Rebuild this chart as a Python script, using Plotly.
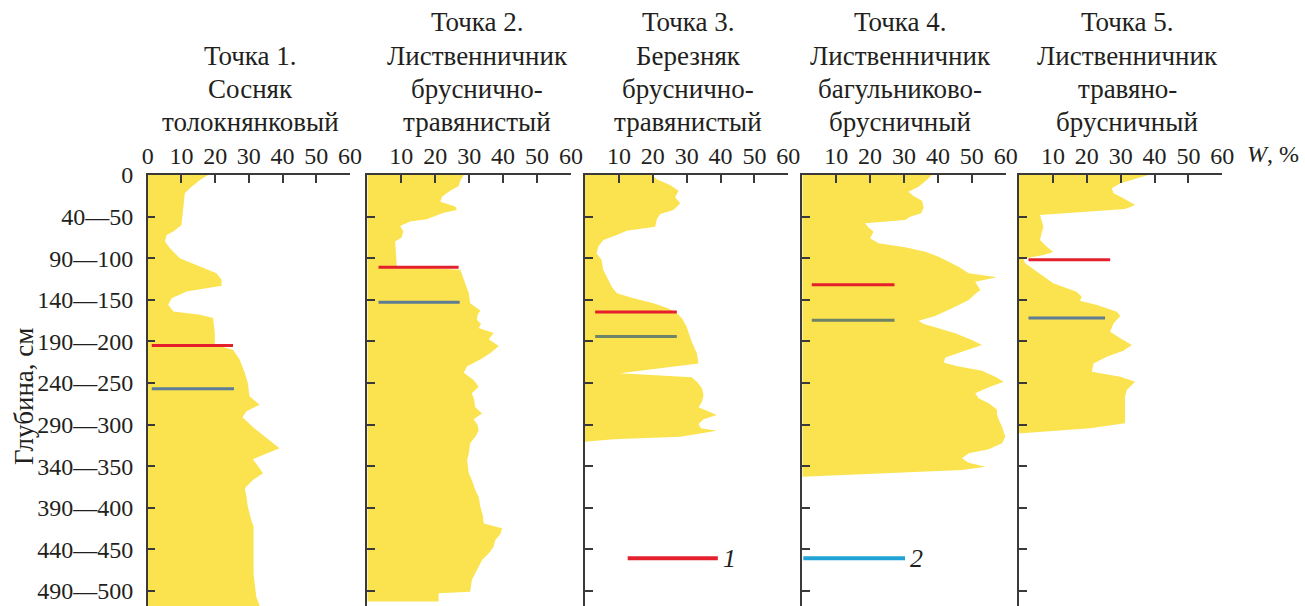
import plotly.graph_objects as go

# ---------------------------------------------------------------- data
# Soil moisture profiles: depth (cm) and moisture W (%)
depth_p1 = [0, 6, 16, 22, 42, 60, 68, 72, 80, 88, 100, 110, 118, 126, 133, 140, 148, 156, 164, 168,
            172, 190, 204, 210, 222, 238, 250, 266, 276, 284, 291, 303, 318.5, 328.5, 336.5, 341.7,
            349.8, 358.6, 366.6, 376.6, 386.6, 398.6, 414.7, 422.7, 478.8, 506.8, 518, 530]
w_p1 = [17.9, 15.5, 12.5, 11.0, 10.5, 10.0, 7.6, 5.6, 5.1, 6.6, 9.5, 15.5, 20.4, 21.9, 21.9, 11.5,
        7.1, 6.1, 7.6, 15.5, 19.4, 19.9, 19.9, 25.3, 27.3, 28.8, 29.7, 30.2, 33.2, 29.3, 28.1, 31.2,
        36.2, 39.1, 34.2, 31.2, 32.7, 34.2, 31.2, 28.8, 29.3, 29.7, 30.7, 31.4, 31.4, 32.2, 33.2, 33.2]

depth_p2 = [0, 6.8, 13.2, 18.8, 26, 32, 38, 42, 45.3, 53.3, 56, 61.3, 68, 75, 80, 102, 110, 114, 126,
            136, 142, 154, 158, 163, 168, 174, 179, 184, 190, 197.5, 205.5, 214, 221.6, 230, 237.6,
            246.4, 254.4, 262.4, 270.4, 279.2, 286.5, 293.7, 300.5, 307.3, 314.5, 322.5, 334.5, 342.5,
            358.6, 366.6, 378.6, 386.6, 398.6, 408.7, 418.7, 424.7, 431.5, 438.7, 446.7, 454.7, 462.7,
            474.8, 486.8, 500.8, 502.8, 512.5]
w_p2 = [28.4, 27.4, 26.9, 24.4, 22.0, 21.5, 25.9, 26.4, 22.5, 17.5, 12.6, 9.7, 10.6, 10.1, 8.2, 8.5,
        8.7, 27.4, 28.4, 29.2, 29.9, 30.3, 31.8, 33.3, 32.5, 32.3, 33.5, 32.8, 37.2, 35.8, 38.7, 36.3,
        33.3, 29.4, 28.4, 31.3, 32.8, 30.8, 31.5, 31.8, 33.8, 31.3, 32.5, 32.8, 31.8, 30.3, 29.9, 29.4,
        29.9, 30.8, 31.8, 32.8, 33.3, 34.0, 34.3, 39.7, 39.2, 37.7, 37.2, 35.8, 33.8, 32.3, 30.8, 30.3,
        21.0, 21.0]

depth_p3 = [0, 5.2, 12, 18.8, 26.8, 34, 42, 46.9, 53.3, 62.1, 66.9, 72.1, 78.1, 86.1, 94.2, 102.2,
            114.2, 122.2, 134.2, 142.2, 148.2, 154.2, 160.3, 166.3, 172.3, 182.3, 200.3, 214.3, 226.4,
            238.4, 243.2, 248.4, 256.4, 264.4, 272.4, 279.2, 283.3, 288.5, 293.7, 299.3, 304.5, 307.3,
            310.5, 314.5, 317.7, 320.5]
w_p3 = [19.7, 21.2, 25.1, 27.6, 26.6, 28.1, 26.1, 22.2, 21.2, 20.7, 12.3, 9.4, 5.4, 3.9, 3.4, 4.9,
        5.4, 6.4, 7.9, 9.4, 14.3, 20.2, 24.6, 27.1, 28.6, 30.0, 31.5, 33.0, 33.5, 10.3, 31.5, 33.0,
        34.5, 35.0, 34.5, 33.5, 36.0, 38.9, 35.0, 33.5, 34.2, 38.9, 34.5, 28.1, 8.4, 0.0]

depth_p4 = [0, 6, 14, 20, 25.2, 30.8, 38.9, 46.1, 50.1, 54.1, 58.1, 62.9, 68.1, 76.1, 82.1, 86.9,
            92.1, 98.2, 104.2, 110.2, 118.2, 123, 128.2, 138.2, 143, 150.2, 158.3, 169.5, 175.1, 179.1,
            183.1, 190.3, 198.3, 204.3, 212.3, 219.2, 225.2, 229.2, 235.2, 242.4, 248.4, 255.2, 262.4,
            268.4, 274.4, 281.7, 287.3, 294.5, 302.5, 314.5, 322.5, 329.7, 334.5, 340.5, 345.8, 350.6,
            354.6, 358.6, 362.6]
w_p4 = [38.2, 36.7, 34.3, 31.3, 32.8, 35.3, 35.8, 35.1, 31.8, 30.3, 18.5, 19.5, 21.0, 20.0, 22.5,
        30.3, 36.3, 40.2, 43.2, 46.1, 49.1, 57.4, 51.0, 52.5, 51.0, 49.1, 45.1, 39.2, 34.3, 35.8,
        39.2, 45.1, 50.0, 53.0, 47.1, 42.2, 41.7, 45.1, 53.0, 56.9, 59.4, 55.0, 51.0, 52.0, 55.0,
        57.4, 57.4, 58.0, 58.9, 59.9, 58.9, 55.0, 49.1, 47.1, 49.1, 54.0, 47.1, 22.5, 0.0]

depth_p5 = [0, 4, 10, 16, 22, 28, 36.1, 40.9, 44.1, 48.1, 54.9, 62.1, 69.3, 78.1, 86.1, 92.5, 96.2,
            100.6, 106.2, 122.2, 130.2, 140.2, 146.2, 151, 156.3, 164.3, 169.5, 178.3, 188.3, 196.3,
            204.3, 211.1, 218.3, 226.4, 236.4, 242.4, 248.4, 258.4, 266.4, 298.5, 304.5, 310.5]
w_p5 = [38.2, 34.8, 29.9, 27.4, 27.9, 30.8, 34.3, 31.3, 21.0, 6.2, 6.7, 7.2, 6.7, 6.2, 8.2, 10.1,
        7.2, 1.3, 1.8, 7.2, 10.1, 17.0, 18.5, 18.0, 23.0, 28.9, 29.9, 27.9, 26.9, 29.9, 33.3, 30.8,
        25.9, 22.0, 21.5, 29.9, 34.3, 31.8, 31.3, 31.3, 21.0, 0.8]

profiles = [(depth_p1, w_p1), (depth_p2, w_p2), (depth_p3, w_p3), (depth_p4, w_p4), (depth_p5, w_p5)]

# Marker depths: level 1 (red) and level 2 (blue) per site, with their W extent
level1_depth = [205, 111, 164.7, 132, 102]
level1_w_from = [1.2, 3.3, 3.0, 2.8, 2.8]
level1_w_to = [25.3, 26.9, 27.1, 27.2, 26.9]
level2_depth = [257, 153, 194, 174.7, 172]
level2_w_from = [1.2, 3.3, 3.0, 2.8, 2.8]
level2_w_to = [25.6, 27.2, 27.1, 27.2, 25.4]

# Legend samples
legend_depth = 460.7
legend1_w = [12.6, 39.2]
legend2_w = [0.3, 30.3]

titles = [
    ["Точка 1.", "Сосняк", "толокнянковый"],
    ["Точка 2.", "Лиственничник", "бруснично-", "травянистый"],
    ["Точка 3.", "Березняк", "бруснично-", "травянистый"],
    ["Точка 4.", "Лиственничник", "багульниково-", "брусничный"],
    ["Точка 5.", "Лиственничник", "травяно-", "брусничный"],
]

w_ticks = [0, 10, 20, 30, 40, 50, 60]
depth_ticks = [0, 50, 100, 150, 200, 250, 300, 350, 400, 450, 500]
depth_labels = ["0", "40—50", "90—100", "140—150", "190—200", "240—250",
                "290—300", "340—350", "390—400", "440—450", "490—500"]

# ---------------------------------------------------------------- style
W_PX, H_PX = 1305, 606
FONT = "Liberation Serif, Times New Roman, serif"
TXT = "#231f20"
AXC = "#3a3a3a"
YELLOW = "#fae34f"
RED = "#e3202c"
LEVEL2_COLORS = ["#5d7c96", "#5f7d90", "#6e8468", "#6d8266", "#5e7d94"]
LEG2 = "#22a3d6"

panel_px = [(147.7, 350.0), (367.3, 571.0), (585.0, 788.3), (802.3, 1005.7), (1019.0, 1222.3)]
title_cx = [250, 477, 688, 900, 1127]
plot_top_px = 175
depth_range = [518, 0]

fig = go.Figure()

for i, (dep, w) in enumerate(profiles):
    ax = "" if i == 0 else str(i + 1)
    xr, yr = "x" + ax, "y" + ax
    fig.add_trace(go.Scatter(x=w, y=dep, xaxis=xr, yaxis=yr, mode="lines",
                             line=dict(width=0, color=YELLOW), fill="tozerox",
                             fillcolor=YELLOW, hoverinfo="skip", showlegend=False))
    fig.add_trace(go.Scatter(x=[level1_w_from[i], level1_w_to[i]],
                             y=[level1_depth[i], level1_depth[i]], xaxis=xr, yaxis=yr,
                             mode="lines", line=dict(width=3, color=RED), showlegend=False))
    fig.add_trace(go.Scatter(x=[level2_w_from[i], level2_w_to[i]],
                             y=[level2_depth[i], level2_depth[i]], xaxis=xr, yaxis=yr,
                             mode="lines", line=dict(width=3, color=LEVEL2_COLORS[i]),
                             showlegend=False))

# legend samples inside panels 3 and 4
fig.add_trace(go.Scatter(x=legend1_w, y=[legend_depth] * 2, xaxis="x3", yaxis="y3",
                         mode="lines", line=dict(width=4, color=RED), showlegend=False))
fig.add_trace(go.Scatter(x=legend2_w, y=[legend_depth] * 2, xaxis="x4", yaxis="y4",
                         mode="lines", line=dict(width=4, color=LEG2), showlegend=False))

ydom = [0, 1 - plot_top_px / H_PX]
layout = dict(
    width=W_PX, height=H_PX, margin=dict(l=0, r=0, t=0, b=0, autoexpand=False),
    paper_bgcolor="white", plot_bgcolor="white",
    font=dict(family=FONT, size=24, color=TXT), showlegend=False,
)
for i, (x0, x1) in enumerate(panel_px):
    ax = "" if i == 0 else str(i + 1)
    ticktext = [str(v) for v in w_ticks]
    if i > 0:
        ticktext[0] = ""
    layout["xaxis" + ax] = dict(
        domain=[x0 / W_PX, x1 / W_PX], range=[0, 60], side="top",
        anchor="y" + ax, tickvals=w_ticks, ticktext=ticktext, automargin=False,
        ticks="inside", ticklen=8, tickwidth=1.5, tickcolor=AXC,
        showline=True, linecolor=AXC, linewidth=1.5, showgrid=False, zeroline=False,
        tickfont=dict(size=24, family=FONT, color=TXT), ticklabelstandoff=0,
    )
    layout["yaxis" + ax] = dict(
        domain=ydom, range=depth_range, anchor="x" + ax, automargin=False,
        tickvals=depth_ticks, ticktext=depth_labels, showticklabels=(i == 0),
        ticks="inside", ticklen=8, tickwidth=1.5, tickcolor=AXC,
        showline=True, linecolor=AXC, linewidth=1.5, showgrid=False, zeroline=False,
        tickfont=dict(size=24, family=FONT, color=TXT), ticklabelstandoff=8,
    )
fig.update_layout(**layout)

# panel headings, one annotation per line
line_y = [22, 56, 89, 122]
for cx, lines in zip(title_cx, titles):
    ys = line_y[-len(lines):]
    for text, py in zip(lines, ys):
        fig.add_annotation(x=cx / W_PX, y=1 - py / H_PX, xref="paper", yref="paper",
                           text=text, showarrow=False, xanchor="center", yanchor="middle",
                           font=dict(size=27, family=FONT, color=TXT))

# axis captions
fig.add_annotation(x=24 / W_PX, y=1 - 397 / H_PX, xref="paper", yref="paper",
                   text="Глубина, см", textangle=-90, showarrow=False,
                   xanchor="center", yanchor="middle",
                   font=dict(size=27, family=FONT, color=TXT))
fig.add_annotation(x=1245 / W_PX, y=1 - 154 / H_PX, xref="paper", yref="paper",
                   text="<i>W</i>, %", showarrow=False, xanchor="left", yanchor="middle",
                   font=dict(size=24, family=FONT, color=TXT))

# legend labels
fig.add_annotation(x=legend1_w[1] + 0.8, y=legend_depth, xref="x3", yref="y3",
                   text="<i>1</i>", showarrow=False, xanchor="left", yanchor="middle",
                   font=dict(size=26, family=FONT, color=TXT))
fig.add_annotation(x=legend2_w[1] + 0.8, y=legend_depth, xref="x4", yref="y4",
                   text="<i>2</i>", showarrow=False, xanchor="left", yanchor="middle",
                   font=dict(size=26, family=FONT, color=TXT))

fig.write_html("out.html")
